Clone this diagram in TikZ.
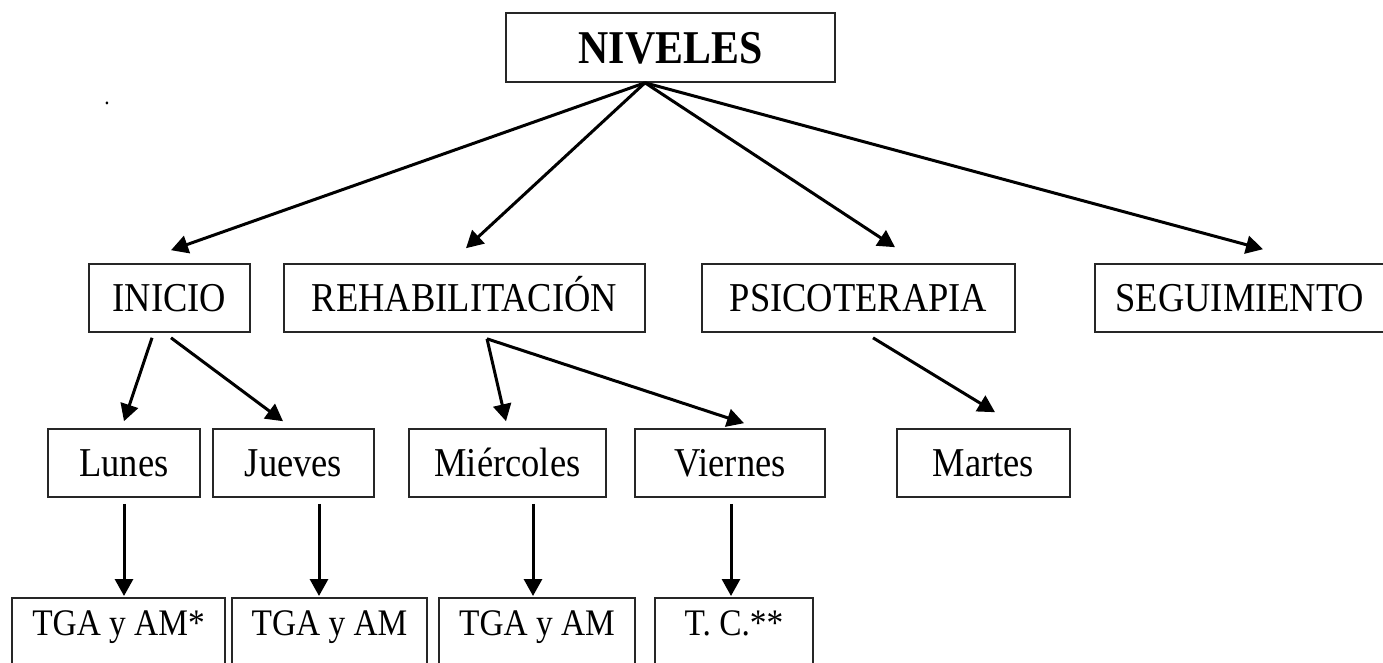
\documentclass[tikz,border=0pt]{standalone}
\usepackage{fontspec}
\setmainfont{Liberation Serif}[FakeStretch=0.89]
\usetikzlibrary{arrows.meta,calc}
\begin{document}
\begin{tikzpicture}[x=1pt,y=-1pt,
  box/.style={draw=black!85, line width=1.6pt, inner sep=0pt, text height=27pt, text depth=0pt,
              minimum height=68pt, font=\fontsize{41}{44}\selectfont},
  botbox/.style={draw=black!85, line width=1.6pt, anchor=north, inner xsep=0pt, inner ysep=13.5pt,
              text height=24.5pt, text depth=60pt, font=\fontsize{37.5}{40}\selectfont},
  conn/.style={line width=3pt, -{Triangle[length=17pt,width=18pt]}},
]
\useasboundingbox (0,0) rectangle (1383,662);
\clip (0,0) rectangle (1383,662);

% top
\node[box, minimum width=329pt, minimum height=69pt, text height=31pt,
      font=\fontsize{47}{50}\selectfont\bfseries] (niv) at (670.5,47.5) {NIVELES};
\node[inner sep=0pt, text height=2pt, text depth=0pt, font=\fontsize{24}{24}\selectfont] (dot) at (107,103) {.};

% level 2
\node[box, minimum width=161pt] (inicio) at (169.5,298) {INICIO};
\node[box, minimum width=361pt] (rehab)  at (464.5,298) {REHABILITACIÓN};
\node[box, minimum width=313pt] (psico)  at (858.5,298) {PSICOTERAPIA};
\node[box, minimum width=290pt] (seg)    at (1240,298)  {SEGUIMIENTO};

% level 3
\node[box, minimum width=152pt] (lunes)   at (124,463)   {Lunes};
\node[box, minimum width=161pt] (jueves)  at (293.5,463) {Jueves};
\node[box, minimum width=197pt] (mier)    at (507.5,463) {Miércoles};
\node[box, minimum width=190pt] (viernes) at (730,463)   {Viernes};
\node[box, minimum width=173pt] (martes)  at (983.5,463) {Martes};

% level 4
\node[botbox, minimum width=213pt] (b1) at (118.5,597) {TGA y AM*};
\node[botbox, minimum width=195pt] (b2) at (329.5,597) {TGA y AM};
\node[botbox, minimum width=196pt] (b3) at (537,597)   {TGA y AM};
\node[botbox, minimum width=158pt] (b4) at (734,597)   {T. C.**};

% connectors from NIVELES
\draw[conn] ($(niv.south)+(-25.5,0)$) -- ($(inicio.north)+(1.5,-13)$);
\draw[conn] ($(niv.south)+(-25.5,0)$) -- ($(rehab.north)+(1.5,-15)$);
\draw[conn] ($(niv.south)+(-25.5,0)$) -- ($(psico.north)+(36.5,-16)$);
\draw[conn] ($(niv.south)+(-25.5,0)$) -- ($(seg.north)+(23,-14)$);

% level 2 -> level 3
\draw[conn] ($(inicio.south)+(-17.5,5)$) -- ($(lunes.north)+(0,-7)$);
\draw[conn] ($(inicio.south)+(1.5,5)$)   -- ($(jueves.north)+(-10.5,-7)$);
\draw[conn] ($(rehab.south)+(22.5,6)$)   -- ($(mier.north)+(-1.5,-7)$);
\draw[conn] ($(rehab.south)+(22.5,6)$)   -- ($(viernes.north)+(14,-5)$);
\draw[conn] ($(psico.south)+(14.5,5)$)   -- ($(martes.north)+(11.5,-16)$);

% level 3 -> level 4
\draw[conn] ($(lunes.south)+(0,6)$)     -- ($(b1.north)+(5.5,-1)$);
\draw[conn] ($(jueves.south)+(25.5,6)$) -- ($(b2.north)+(-10.5,-1)$);
\draw[conn] ($(mier.south)+(25.5,6)$)   -- ($(b3.north)+(-4,-1)$);
\draw[conn] ($(viernes.south)+(1,6)$)   -- ($(b4.north)+(-3,-1)$);
\end{tikzpicture}
\end{document}
